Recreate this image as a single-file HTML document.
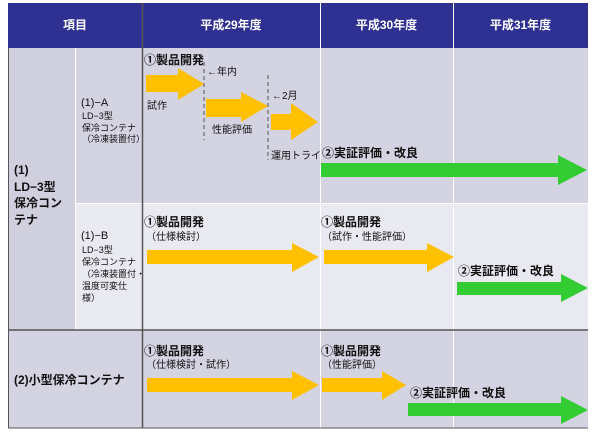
<!DOCTYPE html>
<html><head><meta charset="utf-8"><style>
body{margin:0;width:600px;height:432px;background:#fff;position:relative;overflow:hidden;font-family:"Liberation Sans","Noto Sans CJK JP",sans-serif;}
.t{position:absolute;white-space:nowrap;color:#111;line-height:1;}
.b{font-weight:bold;}
.h{color:#fff;font-weight:bold;font-size:12px;position:absolute;top:19px;text-align:center;line-height:1;}
.s{font-size:9px;}
.m{font-size:10px;}
</style></head><body>
<svg width="600" height="432" style="position:absolute;left:0;top:0">
<rect x="8" y="3" width="580" height="45" fill="#2e3192"/>
<rect x="8" y="48" width="580" height="155" fill="#d3d3e2"/>
<rect x="8" y="203" width="580" height="127" fill="#e9e9f1"/>
<rect x="8" y="48" width="67" height="282" fill="#cfcfde"/>
<rect x="8" y="330" width="580" height="98" fill="#d3d3e2"/>
<g stroke="#fff" stroke-width="1">
<line x1="75" y1="3" x2="75" y2="48" stroke="#2e3192"/>
<line x1="320.5" y1="3" x2="320.5" y2="428"/>
<line x1="453.5" y1="3" x2="453.5" y2="428"/>
<line x1="75.5" y1="48" x2="75.5" y2="330"/>
<line x1="75" y1="203.5" x2="588" y2="203.5"/>
</g>
<line x1="142.5" y1="3" x2="142.5" y2="428" stroke="#555" stroke-width="1.5"/>
<line x1="8" y1="330" x2="588" y2="330" stroke="#555" stroke-width="1.5"/>
<line x1="8" y1="428" x2="588" y2="428" stroke="#555" stroke-width="1"/>
<line x1="8.5" y1="48" x2="8.5" y2="428" stroke="#555" stroke-width="1"/>
<g stroke="#555" stroke-dasharray="4,3" stroke-width="1">
<line x1="204" y1="62" x2="204" y2="140"/>
<line x1="268" y1="75" x2="268" y2="160"/>
</g>
<g fill="#ffc000">
<polygon points="146,75 178,75 178,68 204,84 178,100 178,92 146,92"/>
<polygon points="206,99 241,99 241,92 268,106 241,122 241,117 206,117"/>
<polygon points="271,114 291,114 291,103 318,122 291,140 291,130 271,130"/>
<polygon points="147,250 292,250 292,243 319,257 292,272 292,264 147,264"/>
<polygon points="324,250 427,250 427,243 454,257 427,272 427,264 324,264"/>
<polygon points="147,378 292,378 292,371 319,385 292,400 292,392 147,392"/>
<polygon points="322,378 382,378 382,371 406,385 382,400 382,392 322,392"/>
</g>
<g fill="#33cc33">
<polygon points="321,163 558,163 558,155 587,170 558,185 558,177 321,177"/>
<polygon points="457,282 561,282 561,274 588,288 561,302 561,295 457,295"/>
<polygon points="408,403 561,403 561,396 588,410 561,424 561,416 408,416"/>
</g>
</svg>
<div class="h" style="left:8px;width:134px">項目</div>
<div class="h" style="left:142px;width:178px">平成29年度</div>
<div class="h" style="left:320px;width:133px">平成30年度</div>
<div class="h" style="left:453px;width:135px">平成31年度</div>

<div class="t b" style="left:14px;top:162px;font-size:12px;line-height:16.5px">(1)<br>LD−3型<br>保冷コン<br>テナ</div>
<div class="t" style="left:81px;top:98px;font-size:11px">(1)−A</div>
<div class="t s" style="left:82px;top:111px;line-height:11.5px">LD−3型<br>保冷コンテナ<br>（冷凍装置付）</div>
<div class="t" style="left:81px;top:231px;font-size:11px">(1)−B</div>
<div class="t s" style="left:82px;top:244px;line-height:12px">LD−3型<br>保冷コンテナ<br>（冷凍装置付・<br>温度可変仕<br>様）</div>
<div class="t b" style="left:14px;top:374px;font-size:12px">(2)小型保冷コンテナ</div>

<div class="t b" style="left:144px;top:54px;font-size:12px">①製品開発</div>
<div class="t m" style="left:207px;top:68px">←年内</div>
<div class="t m" style="left:147px;top:102px">試作</div>
<div class="t m" style="left:272px;top:92px">←2月</div>
<div class="t m" style="left:212px;top:126px">性能評価</div>
<div class="t m" style="left:271px;top:152px">運用トライ</div>
<div class="t b" style="left:322px;top:147px;font-size:12px">②実証評価・改良</div>

<div class="t b" style="left:144px;top:216px;font-size:12px">①製品開発</div>
<div class="t" style="left:146px;top:233px;font-size:10px">（仕様検討）</div>
<div class="t b" style="left:321px;top:216px;font-size:12px">①製品開発</div>
<div class="t" style="left:322px;top:233px;font-size:10px">（試作・性能評価）</div>
<div class="t b" style="left:458px;top:265px;font-size:12px">②実証評価・改良</div>

<div class="t b" style="left:144px;top:345px;font-size:12px">①製品開発</div>
<div class="t" style="left:146px;top:361px;font-size:10px">（仕様検討・試作）</div>
<div class="t b" style="left:321px;top:345px;font-size:12px">①製品開発</div>
<div class="t" style="left:322px;top:361px;font-size:10px">（性能評価）</div>
<div class="t b" style="left:410px;top:387px;font-size:12px">②実証評価・改良</div>
</body></html>
